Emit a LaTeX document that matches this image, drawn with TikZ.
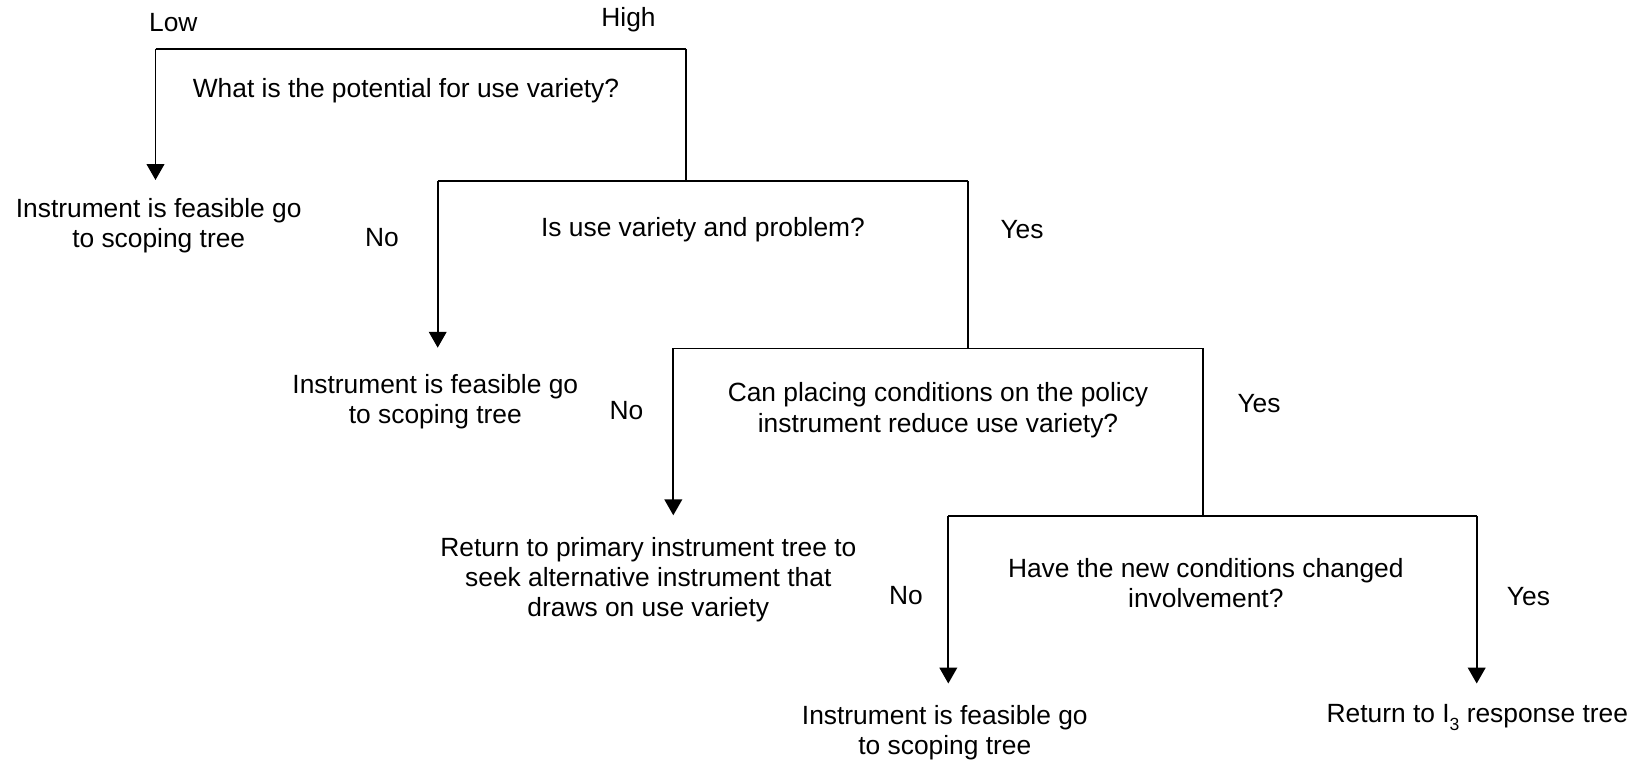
\documentclass[tikz,border=0pt]{standalone}
\usepackage{fontspec}
\setmainfont{Liberation Sans}
\usepackage{tikz}
\usetikzlibrary{arrows.meta}
\tikzset{
  dtquestion/.style={align=center, inner sep=1pt, yshift=-1.4pt,
                     font=\fontsize{15}{17.2}\selectfont},
  dtleaf/.style={dtquestion},
  dtlabel/.style={dtquestion},
  dtbar/.style={draw, line width=1pt},
  dtarrow/.style={dtbar, -{Triangle[width=10pt, length=9pt]}}
}
\newcommand{\lowsub}[1]{\raisebox{-0.55ex}{\fontsize{10}{10}\selectfont #1}}

\begin{document}
\begin{tikzpicture}[x=0.02cm, y=-0.02cm]
  \useasboundingbox (0,0) rectangle (1637,763);
  \foreach \k/\xl/\xr/\y/\tip in {1/155.5/685.7/49/180,
      2/437.7/967.7/181/347.7, 3/673.3/1203.3/348.5/515.3,
      4/948.3/1476.7/516/683.5} {
    \coordinate (bl\k) at (\xl, \y);
    \coordinate (br\k) at (\xr, \y);
    \coordinate (tip\k) at (\xl, \tip);
  }
  \coordinate (tip5) at (1476.7, 683.5);
  \node[dtlabel] (low) at (173.3, 19.8) {Low};
  \node[dtlabel] (high) at (628.5, 17.7) {High};
  \node[dtquestion] (q1) at (406, 88.7) {What is the potential for use variety?};
  \node[dtleaf] (leaf1) at (158.7, 222.9) {Instrument is feasible go\\to scoping tree};
  \node[dtlabel] (no2) at (382, 235) {No};
  \node[dtquestion] (q2) at (703, 227.6) {Is use variety and problem?};
  \node[dtlabel] (yes2) at (1022, 227.6) {Yes};
  \node[dtleaf] (leaf2) at (435.3, 399.3) {Instrument is feasible go\\to scoping tree};
  \node[dtlabel] (no3) at (626.4, 408.2) {No};
  \node[dtquestion] (q3) at (938, 407.7)
    {Can placing conditions on the policy\\instrument reduce use variety?};
  \node[dtlabel] (yes3) at (1259, 401) {Yes};
  \node[dtleaf] (leaf3) at (648.3, 577.3)
    {Return to primary instrument tree to\\seek alternative instrument that\\draws on use variety};
  \node[dtlabel] (no4) at (906, 593) {No};
  \node[dtquestion] (q4) at (1205.8, 581) {Have the new conditions changed\\involvement?};
  \node[dtlabel] (yes4) at (1528.4, 594) {Yes};
  \node[dtleaf] (leaf4) at (944.8, 730.3) {Instrument is feasible go\\to scoping tree};
  \node[dtleaf] (leaf5) at (1477.3, 715) {Return to I\lowsub{3} response tree};
  \foreach \k in {1,...,4} {
    \draw[dtbar] (bl\k) -- (br\k);
    \draw[dtarrow] (bl\k) -- (tip\k);
  }
  \draw[dtbar] (br1) -- (br1 |- bl2);
  \draw[dtbar] (br2) -- (br2 |- bl3);
  \draw[dtbar] (br3) -- (br3 |- bl4);
  \draw[dtarrow] (br4) -- (tip5);
\end{tikzpicture}
\end{document}
